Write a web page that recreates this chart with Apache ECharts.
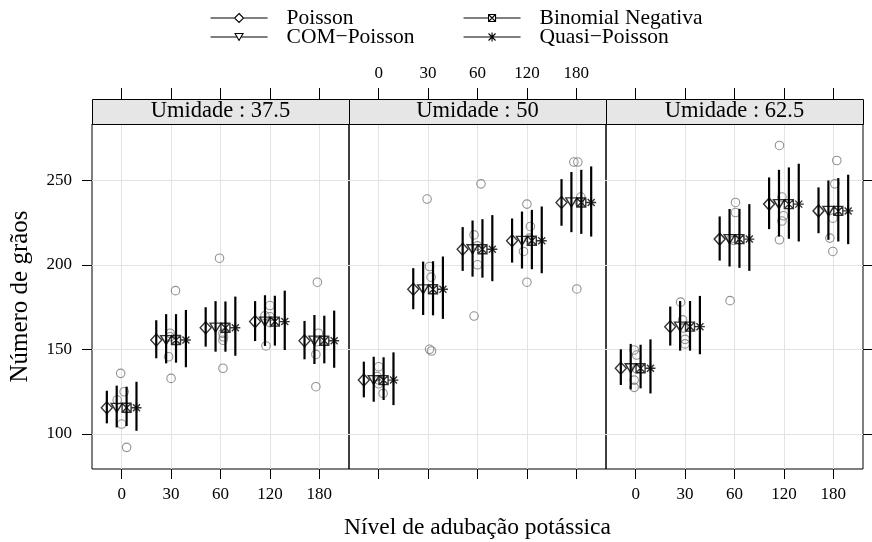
<!DOCTYPE html>
<html><head><meta charset="utf-8">
<script src="https://cdn.jsdelivr.net/npm/echarts@6/dist/echarts.min.js"></script>
<style>html,body{margin:0;padding:0;background:#fff}#c{width:872px;height:542px}</style>
</head><body><div id="c"></div>
<script>
// ---------- data ----------
const categories = ['0', '30', '60', '120', '180'];
const umidade = ['37.5', '50', '62.5'];
const models = ['Poisson', 'COM\u2212Poisson', 'Binomial Negativa', 'Quasi\u2212Poisson'];

// fitted means per panel (Umidade) and level
const fitted = [
  [115.5, 155.6, 162.9, 166.5, 155.2],
  [131.9, 185.6, 209.3, 214.3, 237.0],
  [138.9, 163.5, 215.3, 236.0, 232.0]
];
// confidence intervals [lower, upper]
const poissonCI = [
  [[106.3,125.6],[144.8,167.3],[151.7,175.0],[155.0,178.6],[144.2,166.9]],
  [[121.7,142.8],[173.8,198.1],[196.5,222.4],[201.4,227.5],[223.2,250.8]],
  [[129.0,150.1],[152.3,175.4],[202.6,228.7],[221.2,251.8],[218.8,245.9]]
];
const compoissonCI = [
  [[103.9,128.6],[141.8,170.9],[148.7,178.6],[152.1,182.1],[141.4,170.4]],
  [[119.1,145.7],[170.4,202.0],[193.1,226.3],[197.9,231.6],[219.4,255.0]],
  [[126.4,153.3],[149.3,178.7],[199.1,233.1],[216.8,256.3],[214.9,250.0]]
];
const binnegCI = [
  [[104.7,128.0],[142.2,170.9],[148.7,178.4],[152.3,181.8],[141.8,170.0]],
  [[120.1,145.4],[170.2,202.2],[192.5,227.1],[197.5,232.6],[218.4,256.3]],
  [[127.0,152.8],[149.3,178.7],[198.3,233.2],[215.5,257.7],[213.9,251.4]]
];
const quasiCI = [
  [[101.9,130.9],[139.5,173.4],[146.3,181.3],[149.7,184.8],[139.2,173.0]],
  [[117.1,148.3],[168.1,205.0],[190.4,229.5],[195.1,234.6],[216.8,258.3]],
  [[124.0,156.0],[147.2,181.7],[196.5,236.0],[213.9,259.9],[212.3,253.4]]
];
// observed counts (5 replicates) per panel and level
const obsP1 = [[135.9,125.0,120.1,105.9,92.1],[184.8,159.6,157.5,145.7,132.9],[204.0,159.6,157.5,155.5,138.9],[176.0,170.0,169.4,165.9,152.1],[189.8,159.6,154.6,147.1,128.0]];
const obsP2 = [[139.8,134.0,132.0,129.7,124.0],[239.0,199.1,192.8,150.1,149.1],[248.0,217.8,211.3,200.1,169.8],[236.0,222.8,215.9,208.0,189.8],[260.9,260.9,240.2,237.2,185.8]];
const obsP3 = [[149.7,146.7,138.6,131.9,127.6],[178.0,167.5,162.7,156.0,153.3],[237.0,231.0,215.5,214.5,178.9],[270.7,240.2,229.1,226.0,214.9],[261.8,248.0,227.7,215.9,208.0]];
// horizontal jitter of observed points (category units)
const jitP1 = [[-0.02,0.05,-0.09,0,0.1],[0.09,-0.02,-0.02,-0.05,0],[-0.02,0.05,0.06,0.05,0.05],[0,-0.1,0,0,-0.08],[-0.04,-0.02,-0.05,-0.07,-0.07]];
const jitP2 = [[0,-0.03,0,0,0.09],[-0.02,0.03,0.06,0.03,0.07],[0.07,-0.07,0,0,-0.07],[0,0.07,0.05,-0.07,0],[-0.05,0.03,0.09,0.06,0.01]];
const jitP3 = [[-0.03,0.02,0.02,-0.03,-0.03],[-0.09,-0.05,-0.03,0,0],[0.02,0.02,-0.07,-0.02,-0.09],[-0.09,-0.04,-0.01,-0.04,-0.09],[0.07,0.03,-0.01,-0.07,-0.01]];
const yTicks = [100, 150, 200, 250];

// ---------- styling / layout ----------
const FONT = 'Liberation Serif';
const obs = [obsP1, obsP2, obsP3];
const jit = [jitP1, jitP2, jitP3];
const cis = [poissonCI, compoissonCI, binnegCI, quasiCI];
const offsets = [-0.3, -0.1, 0.1, 0.3];
const symbols = ['diamond', 'triangle',
  'path://M0,0L10,0L10,10L0,10ZM0,0L10,10M10,0L0,10',
  'path://M5,0L5,10M0,5L10,5M1.5,1.5L8.5,8.5M8.5,1.5L1.5,8.5'];
const symSizes = [[11, 12], [11, 9], 9, 10];
const symRot = [0, 180, 0, 0];
const legendIcons = [
  'path://M0,4.5L24,4.5M33,4.5L57,4.5M28.5,0L33,4.5L28.5,9L24,4.5Z',
  'path://M0,4.5L26.2,4.5M30.8,4.5L57,4.5M24.5,1L32.5,1L28.5,8Z',
  'path://M0,4.5L25,4.5M32,4.5L57,4.5M25,1L32,1L32,8L25,8ZM25,1L32,8M32,1L25,8',
  'path://M0,4.5L57,4.5M28.5,0L28.5,9M25,1L32,8M32,1L25,8'
];
const PL = 92, PW = 257, PT = 124, PB = 469, STRIP = 25;
const xMin = -0.6, xMax = 4.6, yMin = 79.3, yMax = 283.4;
const xTicks = [0, 1, 2, 3, 4];

const grids = [], xAxes = [], yAxes = [], series = [], graphics = [];
for (let p = 0; p < 3; p++) {
  grids.push({left: PL + p * PW, top: PT, width: PW, height: PB - PT,
    show: true, borderColor: '#000', borderWidth: 1, backgroundColor: 'transparent',
    containLabel: false, outerBoundsMode: 'none'});
  const bottom = {
    gridIndex: p, type: 'value', min: xMin, max: xMax, position: 'bottom',
    axisLine: {show: false, onZero: false},
    axisTick: {show: true, length: 10, customValues: xTicks, lineStyle: {color: '#000', width: 1}},
    axisLabel: {show: p !== 1, customValues: xTicks, margin: 17, color: '#000', fontSize: 17, fontFamily: FONT,
      formatter: v => categories[Math.round(v)]},
    splitLine: {show: true, lineStyle: {color: '#e3e3e3', width: 1}}
  };
  if (p === 1) {
    Object.assign(bottom, {name: 'Nível de adubação potássica', nameLocation: 'middle', nameGap: 47,
      nameMoveOverlap: false,
      nameTextStyle: {color: '#000', fontSize: 23.5, fontFamily: FONT}});
  }
  xAxes.push(bottom);
  xAxes.push({
    gridIndex: p, type: 'value', min: xMin, max: xMax, position: 'top', offset: STRIP,
    axisLine: {show: false, onZero: false},
    axisTick: {show: true, length: 11, customValues: xTicks, lineStyle: {color: '#000', width: 1}},
    axisLabel: {show: p === 1, customValues: xTicks, margin: 17, color: '#000', fontSize: 17, fontFamily: FONT,
      formatter: v => categories[Math.round(v)]},
    splitLine: {show: false}
  });
  const y = {
    gridIndex: p, type: 'value', min: yMin, max: yMax, position: p === 2 ? 'right' : 'left',
    axisLine: {show: false, onZero: false},
    axisTick: {show: p !== 1, length: 10, customValues: yTicks, lineStyle: {color: '#000', width: 1}},
    axisLabel: {show: p === 0, customValues: yTicks, margin: 20, color: '#000', fontSize: 17, fontFamily: FONT},
    splitLine: {show: true, lineStyle: {color: '#e3e3e3', width: 1}}
  };
  if (p === 0) {
    Object.assign(y, {name: 'Número de grãos', nameLocation: 'middle', nameGap: 59, nameRotate: 90,
      nameMoveOverlap: false,
      nameTextStyle: {color: '#000', fontSize: 25, fontFamily: FONT}});
  }
  yAxes.push(y);

  // observed points
  const obsData = [];
  obs[p].forEach((vals, c) => vals.forEach((v, r) => obsData.push([c + jit[p][c][r], v])));
  series.push({type: 'scatter', name: 'Observado', xAxisIndex: 2 * p, yAxisIndex: p, data: obsData,
    symbol: 'circle', symbolSize: 8.5, silent: true, z: 2,
    itemStyle: {color: 'transparent', borderColor: '#777', borderWidth: 1.1}});

  // model intervals & estimates
  models.forEach((m, k) => {
    const barData = cis[k][p].map((ci, c) => [c + offsets[k], ci[0], ci[1]]);
    series.push({type: 'custom', name: m, xAxisIndex: 2 * p, yAxisIndex: p, data: barData, z: 3, silent: true,
      encode: {x: 0, y: [1, 2]},
      renderItem: (params, api) => {
        const a = api.coord([api.value(0), api.value(1)]);
        const b = api.coord([api.value(0), api.value(2)]);
        return {type: 'line', shape: {x1: a[0], y1: a[1], x2: b[0], y2: b[1]},
          style: {stroke: '#000', lineWidth: 2.2}};
      }});
    series.push({type: 'scatter', name: m, xAxisIndex: 2 * p, yAxisIndex: p, z: 4, silent: true,
      data: fitted[p].map((f, c) => [c + offsets[k], f]),
      symbol: symbols[k], symbolSize: symSizes[k], symbolRotate: symRot[k],
      itemStyle: {color: 'transparent', borderColor: '#000', borderWidth: 1.4}});
  });

  // strip
  graphics.push({type: 'rect', left: PL + p * PW, top: PT - STRIP, z: 10,
    shape: {width: PW, height: STRIP},
    style: {fill: '#e6e6e6', stroke: '#000', lineWidth: 1}});
  graphics.push({type: 'text', x: PL + p * PW + PW / 2, y: PT - STRIP / 2, z: 11,
    style: {text: 'Umidade : ' + umidade[p], fill: '#000', font: '22.5px "' + FONT + '"',
      textAlign: 'center', textVerticalAlign: 'middle'}});
}

const legendItem = k => ({name: models[k], icon: legendIcons[k],
  itemStyle: {color: 'transparent', borderColor: '#000', borderWidth: 1.1}});
const legendCommon = {top: 2, orient: 'vertical', itemWidth: 57, itemHeight: 9, itemGap: -3,
  selectedMode: false,
  textStyle: {color: '#000', fontSize: 21.5, fontFamily: FONT, lineHeight: 18, padding: [0, 0, 0, 14]}};

const option = {
  animation: false,
  backgroundColor: '#fff',
  legend: [
    Object.assign({left: 205, data: [legendItem(0), legendItem(1)]}, legendCommon),
    Object.assign({left: 458, data: [legendItem(2), legendItem(3)]}, legendCommon)
  ],
  grid: grids, xAxis: xAxes, yAxis: yAxes, series: series, graphic: graphics
};
const chart = echarts.init(document.getElementById('c'), null, {renderer: 'canvas'});
chart.setOption(option);
</script></body></html>
